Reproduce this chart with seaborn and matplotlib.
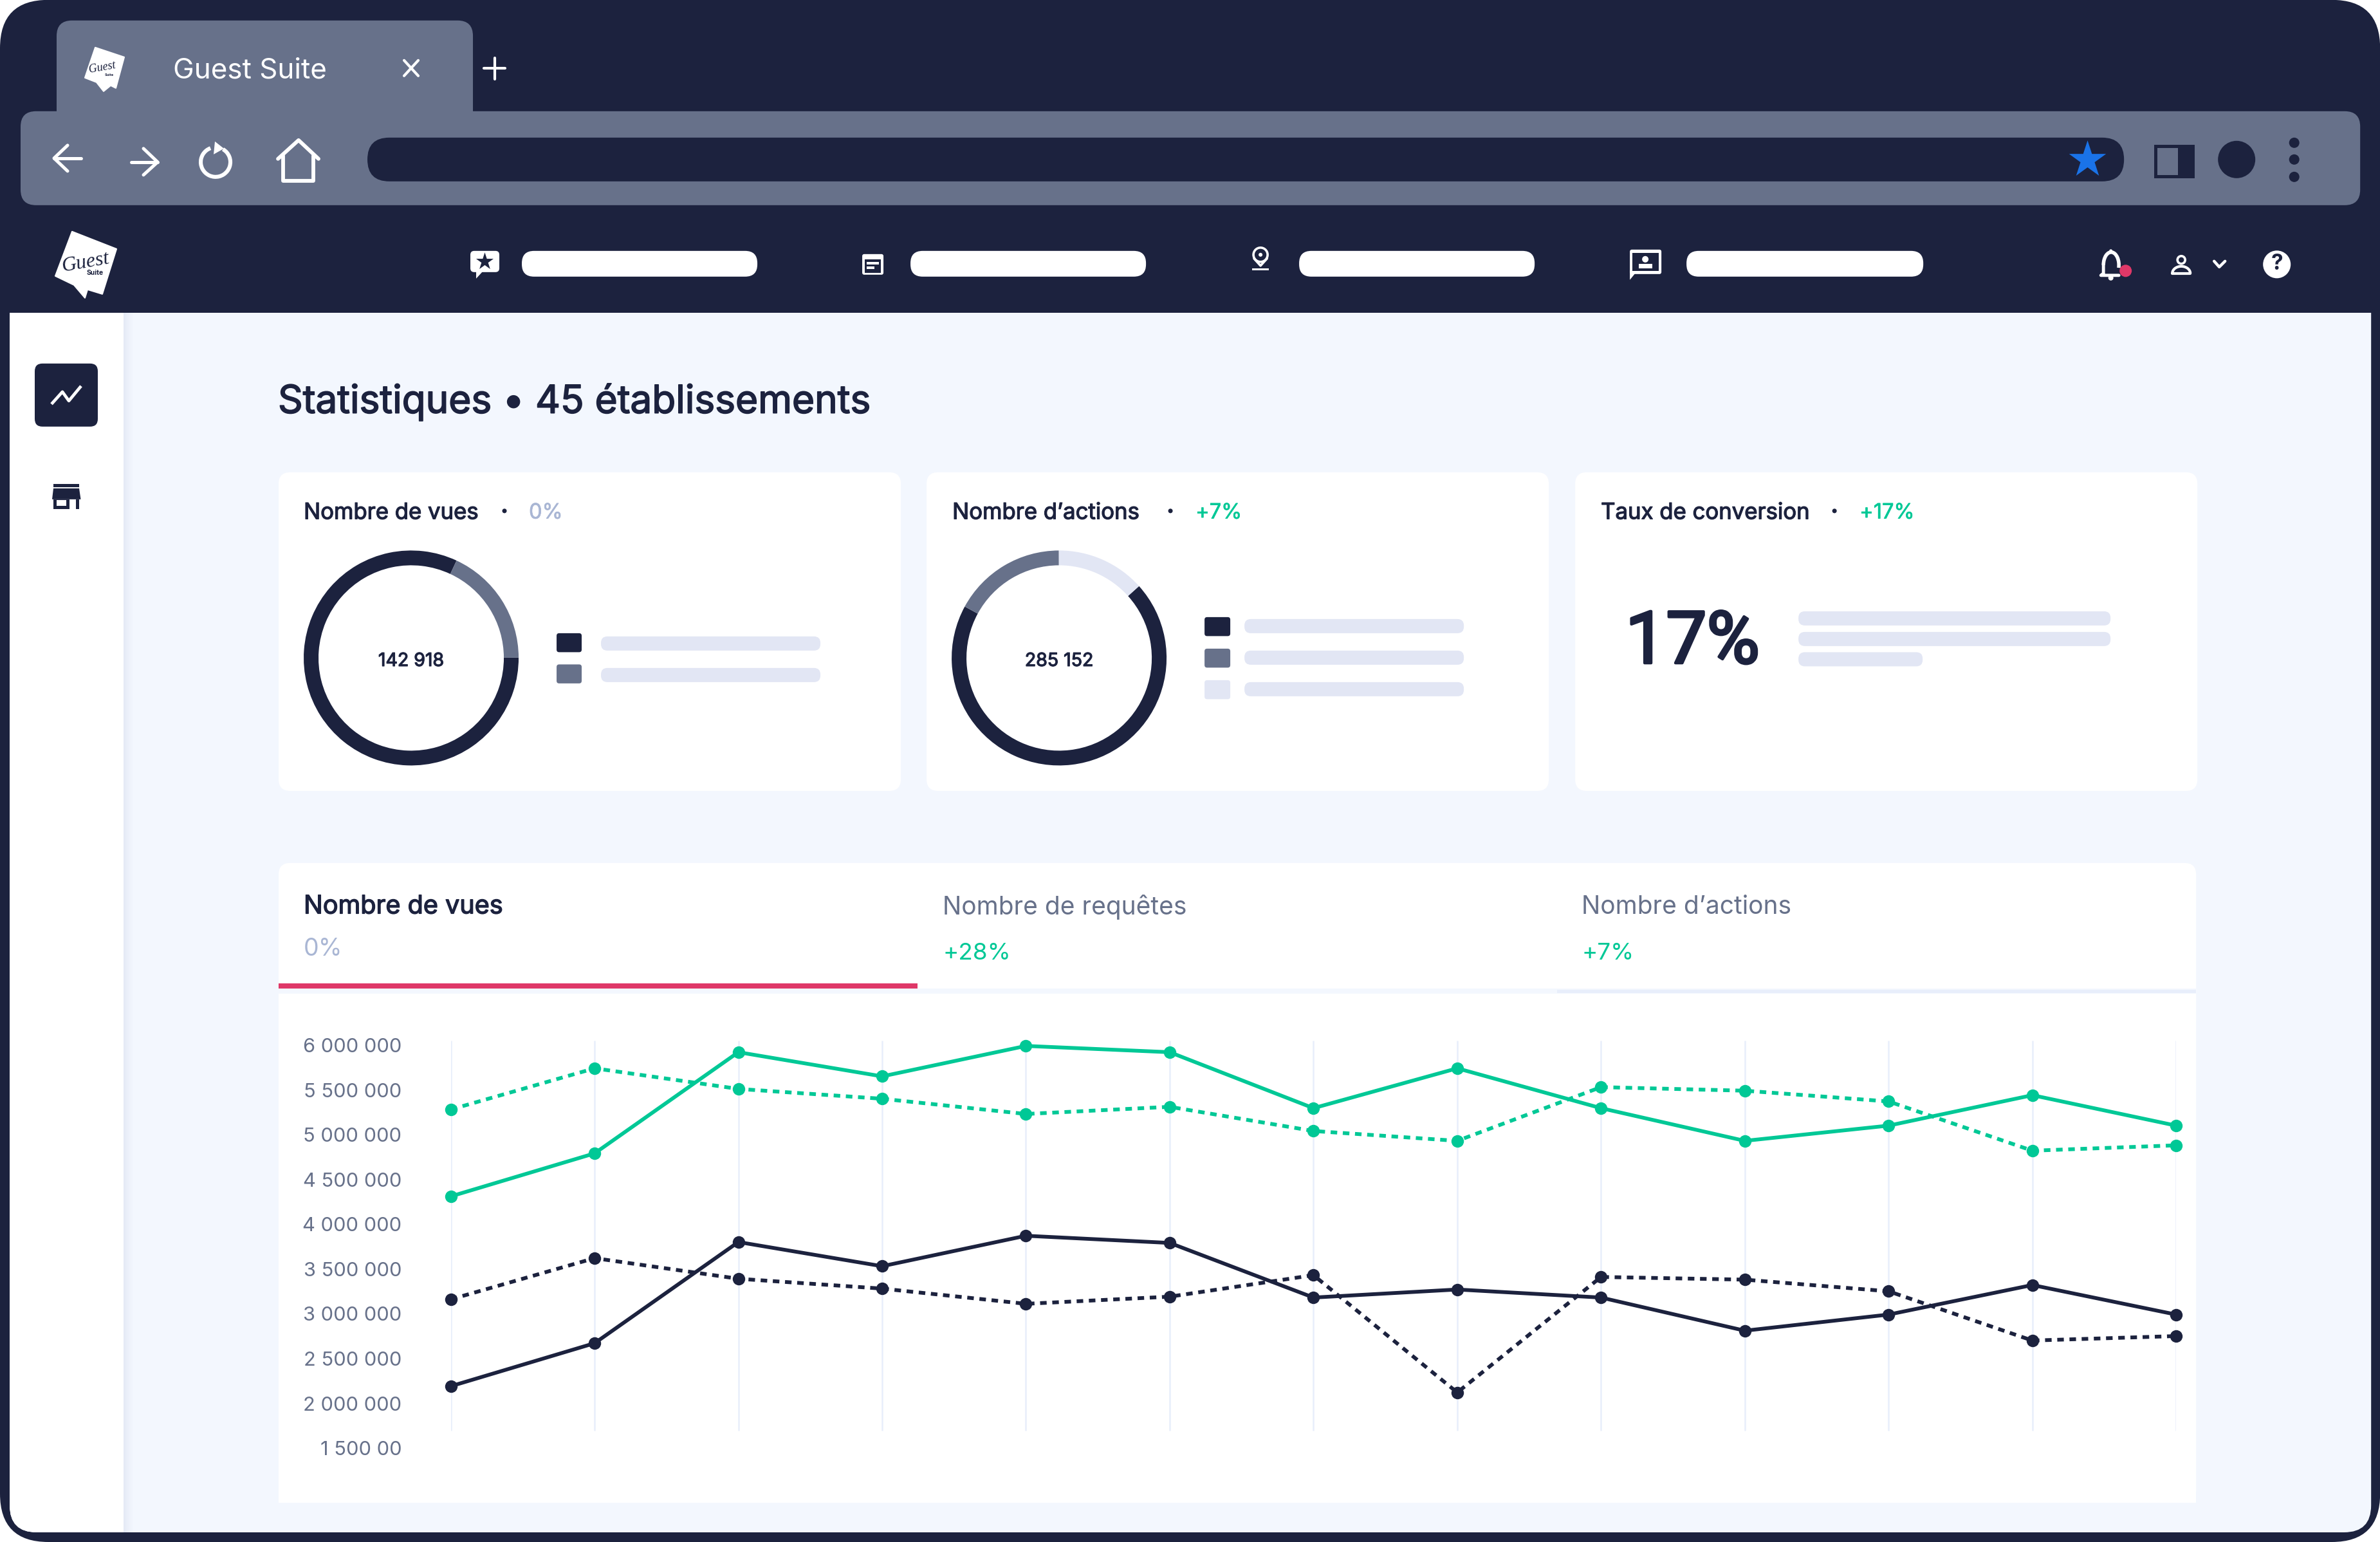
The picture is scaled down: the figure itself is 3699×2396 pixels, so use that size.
import numpy as np
import pandas as pd
import matplotlib
matplotlib.use("Agg")
import matplotlib.pyplot as plt
import matplotlib.patheffects as pe
import seaborn as sns
from matplotlib.patches import FancyBboxPatch, Rectangle, Circle, Polygon, Arc

# ---------- data ----------
months = list(range(13))
green_solid = [4310000, 4790000, 5920000, 5650000, 5990000, 5920000, 5295000, 5740000, 5295000, 4930000, 5100000, 5440000, 5100000]
green_dashed = [5280000, 5740000, 5510000, 5400000, 5230000, 5310000, 5040000, 4930000, 5530000, 5490000, 5370000, 4820000, 4880000]
navy_solid = [2190000, 2670000, 3800000, 3530000, 3870000, 3790000, 3180000, 3270000, 3180000, 2810000, 2990000, 3320000, 2990000]
navy_dashed = [3160000, 3620000, 3390000, 3280000, 3110000, 3190000, 3430000, 2120000, 3410000, 3380000, 3250000, 2700000, 2750000]
y_ticks = [6000000, 5500000, 5000000, 4500000, 4000000, 3500000, 3000000, 2500000, 2000000, 1500000]
y_labels = ["6 000 000", "5 500 000", "5 000 000", "4 500 000", "4 000 000", "3 500 000", "3 000 000", "2 500 000", "2 000 000", "1 500 00"]
views_shares = [82, 18]
actions_shares = [69.6, 13.4, 17.0]

NAVY, SLATE, LIGHT = "#1C223E", "#67718A", "#E2E6F4"
PAGE, GREEN, PINK, MUTED = "#F3F7FE", "#00C896", "#DF3868", "#A9B6D4"
W, H = 3699, 2396
FONT = "Inter"

sns.set_theme(style="white")
plt.rcParams["font.family"] = [FONT, "DejaVu Sans"]

fig = plt.figure(figsize=((W + 0.2) / 100, (H + 0.2) / 100), dpi=100, facecolor="white")
bg = fig.add_axes([0, 0, 1, 1])
bg.set_xlim(0, W)
bg.set_ylim(H, 0)
bg.axis("off")


def rbox(x0, y0, x1, y1, r, color, z=1):
    bg.add_patch(FancyBboxPatch((x0, y0), x1 - x0, y1 - y0, boxstyle=f"round,pad=0,rounding_size={r}",
                                fc=color, ec="none", zorder=z))


def rect(x0, y0, x1, y1, color, z=1):
    bg.add_patch(Rectangle((x0, y0), x1 - x0, y1 - y0, fc=color, ec="none", zorder=z))


def line(pts, color="white", lw=4, z=5, cap="round"):
    xs, ys = zip(*pts)
    bg.plot(xs, ys, color=color, lw=lw, solid_capstyle=cap, solid_joinstyle="round", zorder=z)


def txt(x, y, s, size, color=NAVY, ha="left", weight="normal", z=6, stroke=0, **kw):
    t = bg.text(x, y + 0.14 * size, s, fontsize=size, color=color, ha=ha, va="center",
                fontweight=weight, zorder=z, **kw)
    if stroke:
        t.set_path_effects([pe.withStroke(linewidth=stroke, foreground=color)])
    return t


# ---------- frame ----------
rbox(0, 0, W, H, 75, NAVY, 0)
rbox(15, 440, 3685, 2381, 42, PAGE, 1)
rect(0, 425, W, 486, NAVY, 1.2)
rect(15, 486, 192, 2300, "white", 1.3)
rbox(15, 2200, 192, 2381, 42, "white", 1.25)
rect(80, 2200, 192, 2381, "white", 1.26)
for i, c in enumerate(["#E5EAF6", "#E9EEF8", "#ECF0FA", "#EFF3FB", "#F1F5FD"]):
    rect(192 + 3 * i, 486, 195 + 3 * i, 2381, c, 1.3)

# browser chrome
rbox(88, 32, 735, 200, 24, SLATE, 2)
rbox(32, 173, 3668, 319, 24, SLATE, 2)
rbox(571, 214, 3301, 282, 34, NAVY, 3)
txt(269, 106, "Guest Suite", 31.7, "white")
line([(628, 94), (650, 118)], lw=3)
line([(650, 94), (628, 118)], lw=3)
line([(768.5, 90), (768.5, 123)], lw=3)
line([(752, 106.5), (785, 106.5)], lw=3)
line([(126, 246), (84, 246)], lw=3.6)
line([(105, 226), (84, 246), (105, 266)], lw=3.6)
line([(204, 252), (245, 252)], lw=3.6)
line([(223, 231), (245, 252), (223, 272)], lw=3.6)
bg.add_patch(Arc((335, 252), 46, 46, theta1=-60, theta2=250, ec="white", lw=4.4, zorder=5))
bg.add_patch(Polygon([(334, 220), (348, 231), (332, 240)], fc="white", ec="none", zorder=5))
line([(432, 247), (464, 218), (495, 247)], lw=4.2)
line([(440, 242), (440, 281), (487, 281), (487, 242)], lw=4.2)
bg.scatter([3244], [248], marker="*", s=1900, color="#1A73E8", linewidths=0, zorder=5)
rect(3348, 225, 3411, 277, NAVY, 5)
rect(3353, 230, 3385, 272, SLATE, 6)
bg.add_patch(Circle((3476, 248), 29, fc=NAVY, ec="none", zorder=5))
for yy in (222, 248, 275):
    bg.add_patch(Circle((3565.5, yy), 8, fc=NAVY, ec="none", zorder=5))


def logo(pts, g, gs, s, ss):
    bg.add_patch(Polygon(pts, closed=True, fc="white", ec="white", lw=1.5, joinstyle="round", zorder=5))
    txt(g[0], g[1] - 0.14 * gs, "Guest", gs, NAVY, ha="center", family="Liberation Serif", style="italic", rotation=10, z=6)
    txt(s[0], s[1] - 0.14 * ss, "Suite", ss, NAVY, ha="center", weight="bold", z=6)


logo([(148, 74), (193, 89), (180, 137), (172, 133), (161, 142), (150, 128), (132, 121)], (159, 105), 13, (170, 116), 4)
logo([(112, 360), (181, 387), (159, 457), (136, 450), (132, 463), (115, 443), (86, 429)], (133, 408), 23, (148, 424), 7.5)

# nav
for x0, x1 in [(811, 1177), (1415, 1781), (2019, 2385), (2621, 2989)]:
    rbox(x0, 390, x1, 430, 19, "white", 3)
rbox(731, 390, 776, 423, 6, "white", 5)
bg.add_patch(Polygon([(740, 420), (752, 420), (740, 433)], fc="white", ec="none", zorder=5))
bg.scatter([753], [406], marker="*", s=420, color=NAVY, linewidths=0, zorder=6)
rbox(1340, 395, 1373, 427, 3, "white", 5)
rect(1344, 403, 1369, 424, NAVY, 6)
rect(1347, 407, 1366, 411, "white", 7)
rect(1347, 414, 1359, 418, "white", 7)
bg.add_patch(Circle((1959, 396), 11, fc="none", ec="white", lw=2.6, zorder=5))
bg.add_patch(Circle((1959, 396), 3, fc="white", ec="none", zorder=5))
line([(1949, 402), (1959, 413), (1969, 402)], lw=2.6)
rect(1946, 417, 1972, 420.5, "white", 5)
rbox(2533, 388, 2582, 426, 3, "white", 5)
rect(2537, 393, 2578, 421, NAVY, 6)
bg.add_patch(Polygon([(2533, 420), (2542, 424), (2533, 435)], fc="white", ec="none", zorder=5))
bg.add_patch(Circle((2557, 403), 5, fc="white", ec="none", zorder=7))
rect(2547, 410, 2568, 417, "white", 7)
# bell
bg.add_patch(Arc((3281, 412), 24, 40, theta1=180, theta2=20, ec="white", lw=4, zorder=5))
line([(3269, 412), (3269, 425), (3265, 428), (3293, 428)], lw=3.5)
bg.add_patch(Circle((3280.5, 390), 2.5, fc="white", ec="none", zorder=5))
bg.add_patch(Circle((3280.5, 432), 4, fc="white", ec="none", zorder=5))
bg.add_patch(Circle((3303.5, 421), 9.5, fc=PINK, ec="none", zorder=6))
bg.add_patch(Circle((3390, 404), 6, fc="none", ec="white", lw=2.6, zorder=5))
bg.add_patch(Arc((3390, 425), 28, 22, theta1=180, theta2=360, ec="white", lw=3, zorder=5))
line([(3376, 425), (3404, 425)], lw=3)
line([(3441, 406), (3449, 415), (3458, 406)], lw=3.2)
bg.add_patch(Circle((3538.5, 411), 21.5, fc="white", ec="none", zorder=5))
txt(3538.5, 407, "?", 24, NAVY, ha="center", weight="bold")

# sidebar
rbox(54, 565, 152, 663, 12, NAVY, 3)
line([(80, 628), (97, 609), (107, 623), (126, 600)], lw=3.4, cap="butt")
rect(83, 752, 123, 757, NAVY, 3)
bg.add_patch(Polygon([(83, 759), (123, 759), (125.5, 776), (81, 776)], fc=NAVY, ec="none", zorder=3))
rect(83, 776, 108, 791, NAVY, 3)
rect(118, 776, 123, 791, NAVY, 3)
rect(88, 777, 103, 786, "white", 4)

# ---------- page heading + cards ----------
txt(432, 619, "Statistiques • 45 établissements", 43.4, NAVY, stroke=1.2)
for x0, x1 in [(433, 1400), (1440, 2407), (2448, 3415)]:
    rbox(x0, 734, x1, 1229, 18, "white", 2)
rbox(433, 1341, 3413, 2335, 18, "white", 2)
rect(433, 1400, 3413, 2335, "white", 2.1)


def head(x, s, dotx, px, ptxt, col):
    txt(x, 794, s, 25, NAVY, stroke=0.9)
    bg.add_patch(Circle((dotx, 794), 3.5, fc=NAVY, ec="none", zorder=6))
    txt(px, 794, ptxt, 23.5, col, stroke=0.5)


head(472, "Nombre de vues", 784, 822, "0%", MUTED)
head(1480, "Nombre d’actions", 1819, 1858, "+7%", GREEN)
head(2488, "Taux de conversion", 2851, 2890, "+17%", GREEN)


def donut(cx, cy, shares, colors, start, label):
    r = 167
    ax = fig.add_axes([(cx - r) / W, 1 - (cy + r) / H, 2 * r / W, 2 * r / H])
    ax.pie(shares, colors=colors, startangle=start, counterclock=True, radius=1,
           wedgeprops=dict(width=23 / r, linewidth=0))
    ax.set_xlim(-1, 1)
    ax.set_ylim(-1, 1)
    t = ax.text(0, -0.03, label, ha="center", va="center", fontsize=20.5, color=NAVY)
    t.set_path_effects([pe.withStroke(linewidth=0.9, foreground=NAVY)])


donut(639, 1022.5, views_shares, [NAVY, SLATE], 65, "142 918")
donut(1646, 1022.5, actions_shares, [NAVY, LIGHT, SLATE], 151.4, "285 152")

for y0, c in [(984, NAVY), (1032.5, SLATE)]:
    rbox(865, y0, 904, y0 + 29.5, 4, c, 3)
for y0 in (989, 1038):
    rbox(934, y0, 1275, y0 + 22, 10, LIGHT, 3)
for y0, c in [(959, NAVY), (1008, SLATE), (1057, LIGHT)]:
    rbox(1872, y0, 1912, y0 + 29.5, 4, c, 3)
for y0 in (962, 1011, 1060):
    rbox(1934, y0, 2275, y0 + 22, 10, LIGHT, 3)
rbox(2795, 950, 3280, 972, 10, LIGHT, 3)
rbox(2795, 982, 3280, 1004, 10, LIGHT, 3)
rbox(2795, 1013.5, 2988, 1035.5, 10, LIGHT, 3)
txt(2526, 988, "17%", 81, NAVY, family="Roboto", stroke=3)

# ---------- tabs ----------
txt(472, 1405, "Nombre de vues", 28.5, NAVY, stroke=1.0)
txt(472, 1471, "0%", 27, MUTED)
txt(1465, 1405, "Nombre de requêtes", 28, SLATE)
txt(1465, 1478, "+28%", 26.5, GREEN)
txt(2458, 1405, "Nombre d’actions", 28, SLATE)
txt(2458, 1478, "+7%", 26.5, GREEN)
rect(433, 1536, 3413, 1544, PAGE, 3)
rect(2420, 1538, 3413, 1543, "#E8EEFB", 3.1)
rect(433, 1528, 1426, 1536, PINK, 4)

# ---------- line chart ----------
ax_l, ax_r, ax_t, ax_b = 700.6, 3382, 1616.9, 2256.9
ax = fig.add_axes([ax_l / W, 1 - ax_b / H, (ax_r - ax_l) / W, (ax_b - ax_t) / H], facecolor="none")
df = pd.DataFrame({
    "x": months * 4,
    "value": green_solid + green_dashed + navy_solid + navy_dashed,
    "series": ["gs"] * 13 + ["gd"] * 13 + ["ns"] * 13 + ["nd"] * 13,
})
ax.vlines(months, 1690000, 6050000, color="#E8EEFB", lw=1.8, zorder=1)
sns.lineplot(data=df, x="x", y="value", hue="series", style="series",
             palette={"gs": GREEN, "gd": GREEN, "ns": NAVY, "nd": NAVY},
             dashes={"gs": "", "gd": (1.75, 1.5), "ns": "", "nd": (1.75, 1.5)},
             markers={"gs": "o", "gd": "o", "ns": "o", "nd": "o"},
             markersize=14, markeredgewidth=0, linewidth=4.2, legend=False, clip_on=False, ax=ax, zorder=3)
ax.set_xlim(0, 12)
ax.set_ylim(1450000, 6050000)
ax.set_xticks([])
ax.set_yticks(y_ticks)
ax.set_yticklabels(y_labels, fontsize=22.2, color=SLATE)
ax.tick_params(axis="y", length=0, pad=55)
ax.set_xlabel("")
ax.set_ylabel("")
sns.despine(ax=ax, left=True, bottom=True)

fig.savefig("out.png", dpi=100, facecolor="white")
